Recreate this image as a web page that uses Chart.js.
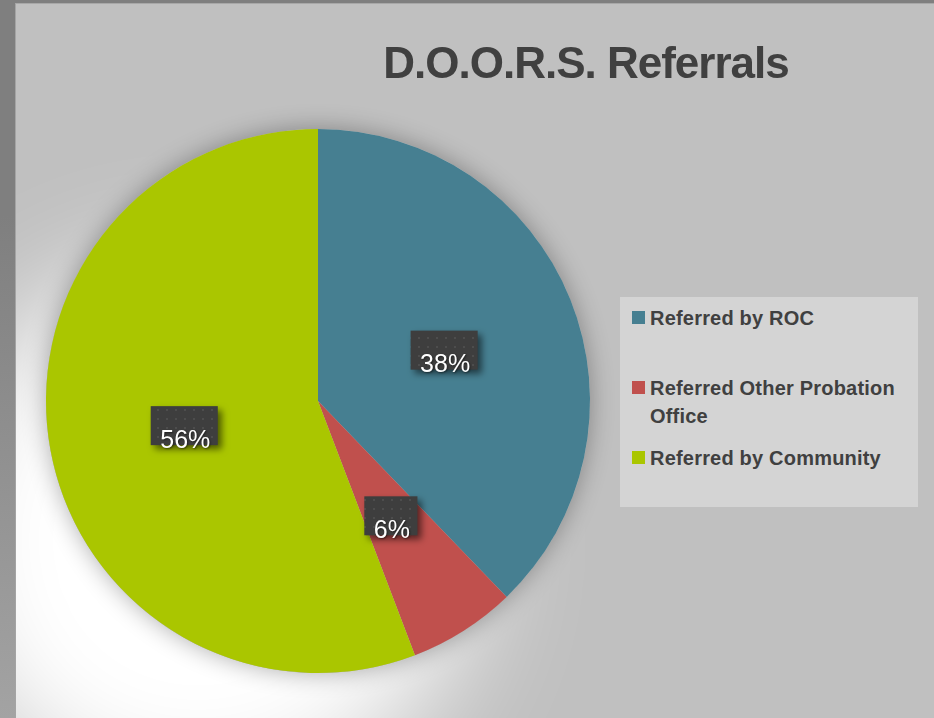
<!DOCTYPE html>
<html>
<head>
<meta charset="utf-8">
<script src="https://cdn.jsdelivr.net/npm/chart.js@4"></script>
<style>
  html, body { margin: 0; padding: 0; }
  body {
    width: 934px; height: 718px; overflow: hidden; position: relative;
    background: linear-gradient(to bottom, #7f7f7f 0%, #7f7f7f 30%, #a3a3a3 100%);
    font-family: "Liberation Sans", Arial, sans-serif;
  }
  #panel {
    position: absolute; left: 15px; top: 3px; width: 919px; height: 715px;
    background: #c0c0c0; border-left: 1px solid #a4a4a4; border-top: 1px solid #a8a8a8;
    box-sizing: border-box;
  }
  #wrap { position: absolute; left: 0; top: 0; width: 934px; height: 718px; }
  #title {
    position: absolute; left: 336px; width: 500px; top: 41px; text-align: center;
    font-size: 44px; font-weight: bold; line-height: 44px; letter-spacing: -1px;
    color: #404040; white-space: nowrap;
  }
  #legend {
    position: absolute; left: 620px; top: 297px; width: 298px; height: 210px;
    background: #d4d4d4; box-sizing: border-box; padding: 7px 6px 0 12px;
  }
  .item { position: relative; padding-left: 18px; font-size: 20px; font-weight: bold;
    line-height: 28px; color: #404040; letter-spacing: 0.2px; }
  .item .sw { position: absolute; left: 0; top: 7px; width: 13px; height: 13px; }
</style>
</head>
<body>
<div id="panel"></div>
<div id="wrap"><canvas id="pie"></canvas></div>
<div id="title">D.O.O.R.S. Referrals</div>
<div id="legend"></div>
<script>
const categories = ['Referred by ROC', 'Referred Other Probation Office', 'Referred by Community'];
const shares = [37.8, 6.4, 55.8];
const colors = ['#467f91', '#c0504d', '#aac600'];

// legend in html
const legendGaps = [0, 42, 14];
const legend = document.getElementById('legend');
categories.forEach((c, i) => {
  const it = document.createElement('div');
  it.className = 'item';
  it.style.marginTop = legendGaps[i] + 'px';
  it.innerHTML = '<span class="sw" style="background:' + colors[i] + '"></span>' + c;
  legend.appendChild(it);
});

// dotted fill for the label boxes
const pc = document.createElement('canvas');
pc.width = 9; pc.height = 9;
const pctx = pc.getContext('2d');
pctx.fillStyle = '#3e3e3e';
pctx.fillRect(0, 0, 9, 9);
pctx.fillStyle = '#4d4d4d';
pctx.fillRect(4, 4, 2, 2);

const shadowPlugin = {
  id: 'pieShadow',
  beforeDatasetsDraw(chart) {
    const arc = chart.getDatasetMeta(0).data[0];
    if (!arc) return;
    const ctx = chart.ctx;
    const cx = arc.x, cy = arc.y, r = arc.outerRadius;
    ctx.save();
    ctx.beginPath();
    ctx.rect(16, 4, 918, 714);
    ctx.clip();
    // light glow to lower left
    ctx.shadowColor = 'rgba(255,255,255,1)';
    ctx.shadowBlur = 120;
    ctx.shadowOffsetX = -120;
    ctx.shadowOffsetY = 140;
    ctx.fillStyle = '#c0c0c0';
    ctx.beginPath();
    ctx.arc(cx, cy, r, 0, Math.PI * 2);
    ctx.fill();
    // soft dark halo
    ctx.shadowColor = 'rgba(0,0,0,0.32)';
    ctx.shadowBlur = 24;
    ctx.shadowOffsetX = 0;
    ctx.shadowOffsetY = 0;
    ctx.beginPath();
    ctx.arc(cx, cy, r, 0, Math.PI * 2);
    ctx.fill();
    ctx.restore();
  }
};

const labelPlugin = {
  id: 'pctLabels',
  afterDatasetsDraw(chart) {
    const ctx = chart.ctx;
    const data = chart.data.datasets[0].data;
    const total = data.reduce((a, b) => a + b, 0);
    const pattern = ctx.createPattern(pc, 'repeat');
    chart.getDatasetMeta(0).data.forEach((arc, i) => {
      const p = arc.tooltipPosition();
      const txt = Math.round(data[i] / total * 100) + '%';
      ctx.save();
      ctx.font = '25px "Liberation Sans", Arial, sans-serif';
      const w = ctx.measureText(txt).width + 17;
      const h = 39;
      ctx.shadowColor = 'rgba(0,0,0,0.55)';
      ctx.shadowBlur = 7;
      ctx.shadowOffsetX = 4;
      ctx.shadowOffsetY = 4;
      ctx.fillStyle = pattern;
      ctx.fillRect(p.x - w / 2, p.y - h / 2, w, h);
      ctx.shadowColor = 'rgba(0,0,0,0.5)';
      ctx.shadowBlur = 2;
      ctx.shadowOffsetX = 1;
      ctx.shadowOffsetY = 1;
      ctx.fillStyle = '#ffffff';
      ctx.textAlign = 'center';
      ctx.textBaseline = 'alphabetic';
      ctx.fillText(txt, p.x + 1, p.y + 22);
      ctx.restore();
    });
  }
};

new Chart(document.getElementById('pie'), {
  type: 'pie',
  data: {
    labels: categories,
    datasets: [{
      data: shares,
      backgroundColor: colors,
      borderWidth: 0,
      hoverOffset: 0
    }]
  },
  options: {
    responsive: true,
    maintainAspectRatio: false,
    animation: false,
    layout: { padding: { left: 46, top: 129, right: 344, bottom: 45 } },
    plugins: {
      legend: { display: false },
      title: { display: false },
      tooltip: { enabled: false }
    }
  },
  plugins: [shadowPlugin, labelPlugin]
});
</script>
</body>
</html>
